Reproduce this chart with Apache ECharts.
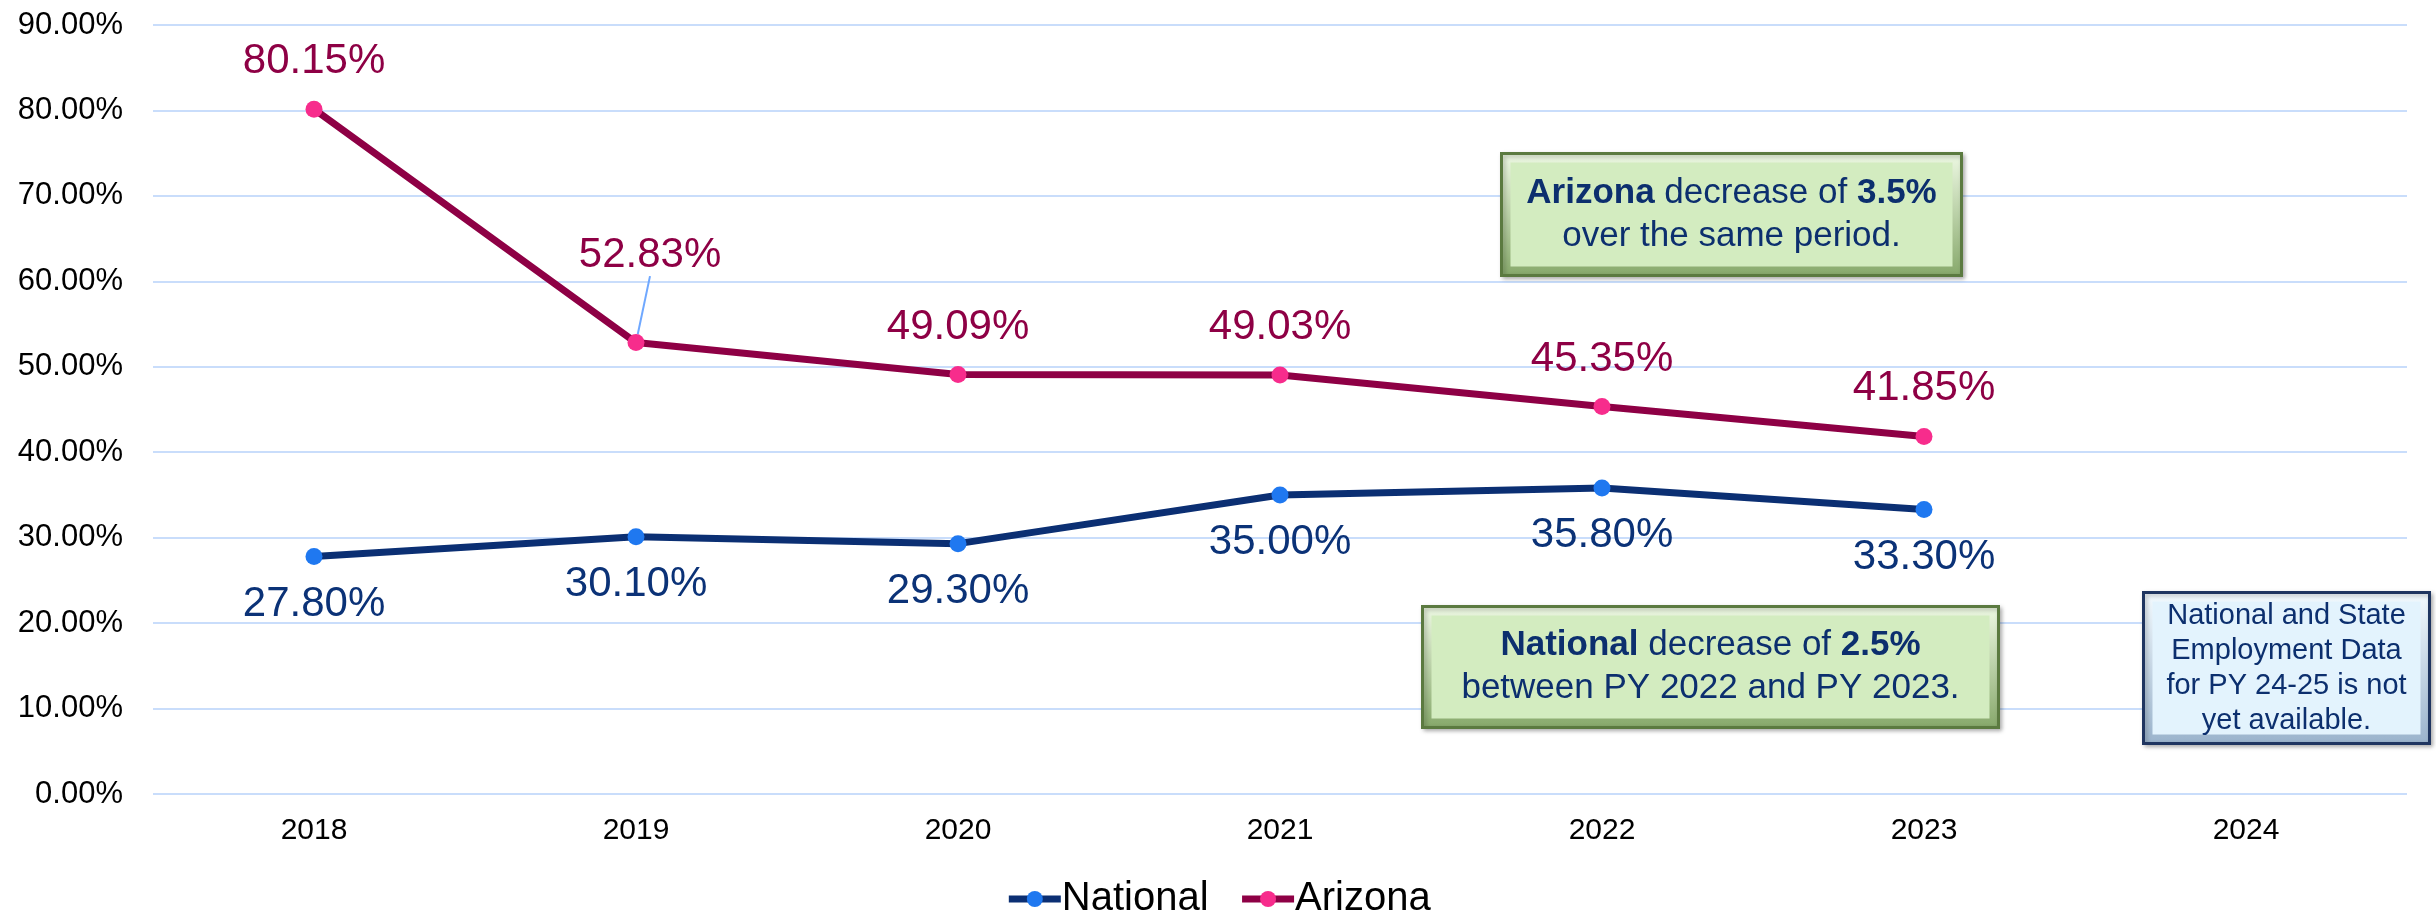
<!DOCTYPE html>
<html>
<head>
<meta charset="utf-8">
<script src="https://cdn.jsdelivr.net/npm/echarts@6/dist/echarts.min.js"></script>
<style>
  html, body { margin: 0; padding: 0; background: #fff; }
  #chart { width: 2436px; height: 922px; }
</style>
</head>
<body>
<div id="chart"></div>
<script>
const years = ['2018', '2019', '2020', '2021', '2022', '2023', '2024'];
const national = [27.8, 30.1, 29.3, 35.0, 35.8, 33.3];
const arizona = [80.15, 52.83, 49.09, 49.03, 45.35, 41.85];
const yMin = 0;
const yMax = 90;
const yStep = 10;

const FONT = '"Liberation Sans", Arial, sans-serif';
const NAVY = '#0c2f6e';

const chart = echarts.init(document.getElementById('chart'));

// bevelled callout box, like the Excel shapes
function calloutBox(x, y, w, h, colors, text, rich) {
  return {
    type: 'group',
    left: x,
    top: y,
    z: 100,
    children: [
      {
        type: 'rect',
        z: 100,
        shape: { x: 0, y: 0, width: w, height: h },
        style: {
          fill: {
            type: 'linear', x: 0, y: 0, x2: 0, y2: 1,
            colorStops: [
              { offset: 0, color: colors.light },
              { offset: 1, color: colors.dark },
            ],
          },
          stroke: colors.border,
          lineWidth: 3,
          shadowBlur: 4,
          shadowOffsetX: 2,
          shadowOffsetY: 2,
          shadowColor: 'rgba(0,0,0,0.25)',
        },
      },
      {
        type: 'rect',
        z: 101,
        shape: { x: 9, y: 9, width: w - 18, height: h - 18 },
        style: { fill: colors.fill },
      },
      {
        type: 'text',
        z: 102,
        x: w / 2,
        y: h / 2,
        style: {
          text,
          rich,
          fill: NAVY,
          align: 'center',
          verticalAlign: 'middle',
        },
      },
    ],
  };
}

const green = { light: '#eef9e4', dark: '#86a86a', fill: '#d3ecc0', border: '#5b7a40' };
const blue = { light: '#f4fbff', dark: '#9ab3cc', fill: '#e3f3fd', border: '#1f3560' };

const boxRich = {
  b: { fontWeight: 'bold', fontSize: 35, fontFamily: FONT, fill: NAVY, lineHeight: 43 },
  n: { fontSize: 35, fontFamily: FONT, fill: NAVY, lineHeight: 43 },
};
const noteRich = {
  n: { fontSize: 29, fontFamily: FONT, fill: NAVY, lineHeight: 35 },
};

chart.setOption({
  animation: false,
  textStyle: { fontFamily: FONT },
  grid: { left: 153, right: 29, top: 25, bottom: 128 },
  legend: {
    top: 874,
    left: 'center',
    itemWidth: 52,
    itemHeight: 20,
    itemGap: 30,
    textStyle: { fontSize: 40, color: '#000', fontFamily: FONT, padding: [0, 0, 0, -4] },
    data: [
      { name: 'National', lineStyle: { width: 7 } },
      { name: 'Arizona', lineStyle: { width: 7 } },
    ],
  },
  xAxis: {
    type: 'category',
    data: years,
    boundaryGap: true,
    axisLine: { show: false },
    axisTick: { show: false },
    axisLabel: { fontSize: 30, color: '#000', margin: 22 },
  },
  yAxis: {
    type: 'value',
    min: yMin,
    max: yMax,
    interval: yStep,
    axisLine: { show: false },
    axisTick: { show: false },
    axisLabel: {
      fontSize: 31,
      color: '#000',
      margin: 30,
      formatter: (v) => v.toFixed(2) + '%',
    },
    splitLine: { lineStyle: { color: '#c9ddfb', width: 2 } },
  },
  series: [
    {
      name: 'National',
      type: 'line',
      data: national,
      symbol: 'circle',
      symbolSize: 17,
      lineStyle: { color: '#0b2f73', width: 7 },
      itemStyle: { color: '#1f78f0' },
      label: {
        show: true,
        position: 'bottom',
        distance: 18,
        fontSize: 42,
        color: '#0b3277',
        formatter: (p) => p.value.toFixed(2) + '%',
      },
    },
    {
      name: 'Arizona',
      type: 'line',
      data: arizona.map((value, i) =>
        i === 1
          ? { value, labelLine: { show: true, lineStyle: { color: '#6fa8ff', width: 2 } } }
          : value,
      ),
      symbol: 'circle',
      symbolSize: 17,
      lineStyle: { color: '#8e0045', width: 7 },
      itemStyle: { color: '#f72c8c' },
      label: {
        show: true,
        position: 'top',
        distance: 18,
        fontSize: 42,
        color: '#8e0045',
        formatter: (p) => p.value.toFixed(2) + '%',
      },
      labelLayout: (p) => (p.dataIndex === 1 ? { dx: 14, dy: -40 } : {}),
    },
  ],
  graphic: [
    calloutBox(1500, 152, 460, 122, green,
      '{b|Arizona}{n| decrease of }{b|3.5%}\n{n|over the same period.}', boxRich),
    calloutBox(1421, 605, 576, 121, green,
      '{b|National}{n| decrease of }{b|2.5%}\n{n|between PY 2022 and PY 2023.}', boxRich),
    calloutBox(2142, 591, 286, 151, blue,
      '{n|National and State}\n{n|Employment Data}\n{n|for PY 24-25 is not}\n{n|yet available.}', noteRich),
  ],
});
</script>
</body>
</html>
